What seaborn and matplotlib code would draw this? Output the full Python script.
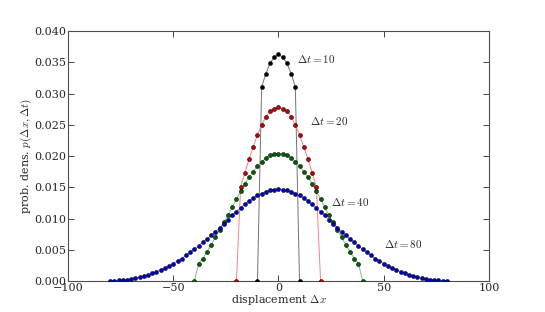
import pandas as pd
import matplotlib
matplotlib.use("Agg")
import matplotlib.pyplot as plt
import seaborn as sns

# Valores: p(dx, dt) en dx = -dt ... dt (paso 2)
x_10 = list(range(-10, 11, 2))
p_10 = [0.0, 0.0311, 0.0332, 0.0349, 0.0358, 0.0363,
        0.0358, 0.0349, 0.0332, 0.0311, 0.0]

x_20 = list(range(-20, 21, 2))
p_20 = [0.0, 0.0151, 0.0173, 0.0195, 0.0215, 0.0234, 0.0250, 0.0263, 0.0272, 0.0276,
        0.0278,
        0.0276, 0.0272, 0.0263, 0.0250, 0.0234, 0.0215, 0.0195, 0.0173, 0.0151, 0.0]

x_40 = list(range(-40, 41, 2))
p_40 = [0.0, 0.0028, 0.0036, 0.0047, 0.0058, 0.0070, 0.0082, 0.0094, 0.0105, 0.0118,
        0.0131, 0.0144, 0.0156, 0.0166, 0.0175, 0.0184, 0.0191, 0.0197, 0.0201, 0.0203,
        0.0204,
        0.0203, 0.0201, 0.0197, 0.0191, 0.0184, 0.0175, 0.0166, 0.0156, 0.0144, 0.0131,
        0.0118, 0.0105, 0.0094, 0.0082, 0.0070, 0.0058, 0.0047, 0.0036, 0.0028, 0.0]

x_80 = list(range(-80, 81, 2))
p_80 = [0.00002, 0.00005, 0.0001, 0.00015, 0.00023, 0.00033, 0.00045, 0.0006, 0.00077, 0.00097,
        0.0012, 0.0015, 0.0018, 0.0021, 0.0024, 0.0028, 0.0032, 0.0036, 0.0041, 0.0046,
        0.0051, 0.0056, 0.0062, 0.0067, 0.0073, 0.0079, 0.0085, 0.0092, 0.0098, 0.0105,
        0.0111, 0.0117, 0.0123, 0.0128, 0.0133, 0.0137, 0.0140, 0.0143, 0.0145, 0.01465,
        0.0147,
        0.01465, 0.0145, 0.0143, 0.0140, 0.0137, 0.0133, 0.0128, 0.0123, 0.0117, 0.0111,
        0.0105, 0.0098, 0.0092, 0.0085, 0.0079, 0.0073, 0.0067, 0.0062, 0.0056, 0.0051,
        0.0046, 0.0041, 0.0036, 0.0032, 0.0028, 0.0024, 0.0021, 0.0018, 0.0015, 0.0012,
        0.00097, 0.00077, 0.0006, 0.00045, 0.00033, 0.00023, 0.00015, 0.0001, 0.00005, 0.00002]

series = [
    (10, x_10, p_10, "k", "0.45"),
    (20, x_20, p_20, "#cc0000", "#ff8080"),
    (40, x_40, p_40, "#006400", "#80c080"),
    (80, x_80, p_80, "#0000cc", "#8080ff"),
]
label_pos = {10: (9, 0.0355), 20: (15, 0.0256), 40: (25, 0.0126), 80: (50, 0.0059)}

sns.set_style("ticks")
plt.rcParams["font.family"] = ["DejaVu Serif"]
plt.rcParams["mathtext.fontset"] = "cm"
plt.rcParams["font.size"] = 8

fig, ax = plt.subplots(figsize=(5.45, 3.12), dpi=100)
fig.subplots_adjust(left=0.125, right=0.897, bottom=0.0994, top=0.9)

for dt, xs, ps, mcol, lcol in series:
    df = pd.DataFrame({"dx": xs, "p": ps})
    sns.lineplot(data=df, x="dx", y="p", color=lcol, lw=0.7, ax=ax, zorder=2)
    sns.scatterplot(data=df, x="dx", y="p", color=mcol, s=8, edgecolor="k",
                    linewidth=0.4, ax=ax, zorder=3)
    tx, ty = label_pos[dt]
    ax.text(tx, ty, r"$\Delta t=%d$" % dt, fontsize=8, va="center", ha="left")

ax.set_xlim(-100, 100)
ax.set_ylim(0, 0.040)
ax.set_xticks([-100, -50, 0, 50, 100])
ax.set_yticks([0.000, 0.005, 0.010, 0.015, 0.020, 0.025, 0.030, 0.035, 0.040])
ax.yaxis.set_major_formatter(matplotlib.ticker.FormatStrFormatter("%.3f"))
ax.tick_params(direction="in", top=True, right=True, length=4, width=0.6,
               labelsize=8, pad=1.5)
for s in ax.spines.values():
    s.set_linewidth(0.8)
    s.set_color("0.3")
ax.set_xlabel(r"displacement $\Delta x$", fontsize=8, labelpad=0)
ax.set_ylabel(r"prob. dens. $p(\Delta x,\Delta t)$", fontsize=8, labelpad=0)

plt.savefig("out.png", dpi=100)
